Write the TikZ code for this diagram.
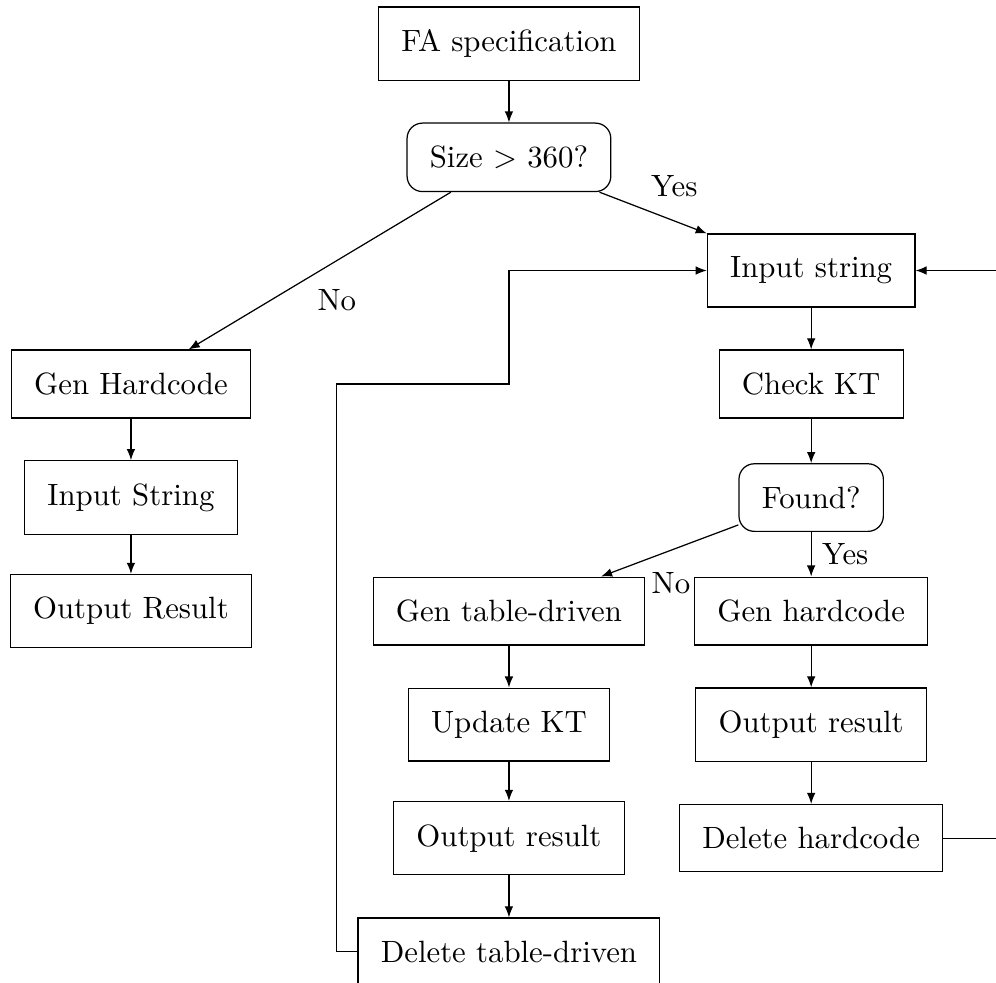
\documentclass[tikz,border=0pt]{standalone}
\usepackage{amsmath,amssymb}
\usetikzlibrary{arrows.meta,calc}
\tikzset{
  stepbox/.style={draw, rectangle, inner sep=7.4pt},
  decbox/.style={stepbox, rounded corners=5pt},
  ar/.style={-{Latex[length=3.6pt,width=2.8pt]}},
  lbl/.style={inner sep=3.33pt},
}
\begin{document}
\begin{tikzpicture}
  \clip (0,0) rectangle (11.37,-11.22);
  % top
  \node[stepbox] (fa) at (5.81,-0.5) {FA specification};
  \node[decbox] (size) at (5.81,-1.796) {Size $>$ 360?};
  % small FA branch
  \node[stepbox] (genhc) at (1.495,-4.384) {Gen Hardcode};
  \node[stepbox] (inhc) at (1.495,-5.68) {Input String};
  \node[stepbox] (outhc) at (1.495,-6.976) {Output Result};
  % large FA branch
  \node[stepbox] (instr) at (9.26,-3.088) {Input string};
  \node[stepbox] (chk) at (9.26,-4.384) {Check KT};
  \node[decbox] (found) at (9.26,-5.68) {Found?};
  \node[stepbox] (gentd) at (5.81,-6.976) {Gen table-driven};
  \node[stepbox] (updkt) at (5.81,-8.272) {Update KT};
  \node[stepbox] (outtd) at (5.81,-9.568) {Output result};
  \node[stepbox] (deltd) at (5.81,-10.864) {Delete table-driven};
  \node[stepbox] (genhd) at (9.26,-6.976) {Gen hardcode};
  \node[stepbox] (outhd) at (9.26,-8.272) {Output result};
  \node[stepbox] (delhd) at (9.26,-9.568) {Delete hardcode};
  % connectors
  \draw[ar] (fa) -- (size);
  \draw[ar] (size) -- (instr.north west) node[lbl, pos=0.38, above right] {Yes};
  \draw[ar] (size) -- (genhc) node[lbl, pos=0.55, below right] {No};
  \draw[ar] (genhc) -- (inhc);
  \draw[ar] (inhc) -- (outhc);
  \draw[ar] (instr) -- (chk);
  \draw[ar] (chk) -- (found);
  \draw[ar] (found) -- (gentd) node[lbl, pos=0.71, below right] {No};
  \draw[ar] (found) -- (genhd) node[lbl, midway, right] {Yes};
  \draw[ar] (gentd) -- (updkt);
  \draw[ar] (updkt) -- (outtd);
  \draw[ar] (outtd) -- (deltd);
  \draw[ar] (genhd) -- (outhd);
  \draw[ar] (outhd) -- (delhd);
  % loops back to the input
  \draw[ar] (deltd.west) -- ++(-0.24,0) |- (fa |- chk) |- (instr.west);
  \draw[ar] (delhd.east) -- ++(0.8,0) |- (instr.east);
\end{tikzpicture}
\end{document}
